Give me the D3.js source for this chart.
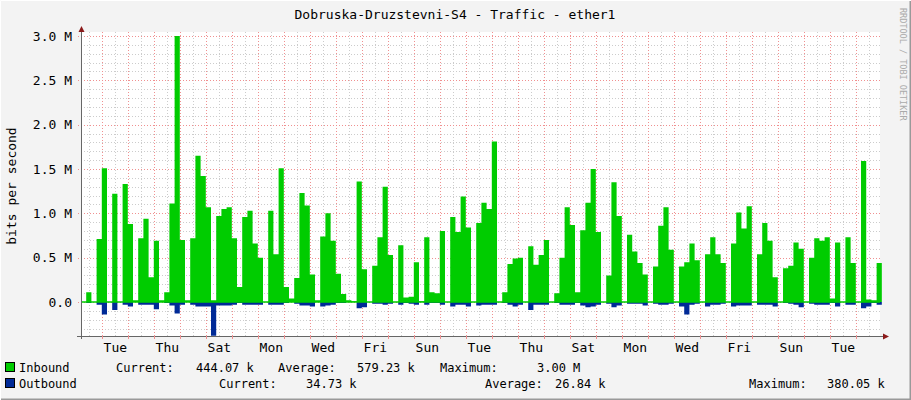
<!DOCTYPE html>
<html>
<head>
<meta charset="utf-8">
<script src="https://cdn.jsdelivr.net/npm/d3@7"></script>
<style>
  body { margin: 0; background: #f3f3f3; }
  svg text { font-family: "DejaVu Sans Mono", monospace; fill: #000; }
</style>
</head>
<body>
<svg id="chart" width="911" height="400"></svg>
<script>
// Samples every ~4.8 h (5 per day), values in Mbit/s
const inbound = [
  0, 0.11, 0, 0.71, 1.51, 0, 1.22, 0, 1.33, 0.88,
  0.02, 0.72, 0.94, 0.28, 0.69, 0.02, 0.11, 1.11, 3.0, 0.70,
  0.02, 0.72, 1.65, 1.42, 1.07, 0.02, 0.97, 1.05, 1.07, 0.72,
  0.17, 0.96, 1.03, 0.66, 0.50, 0, 1.03, 0.54, 1.51, 0.17,
  0.04, 0.27, 1.23, 1.09, 0.31, 0.02, 0.74, 1.00, 0.69, 0.32,
  0.09, 0.02, 0.01, 1.36, 0.37, 0, 0.41, 0.73, 1.30, 0.53,
  0, 0.64, 0.05, 0.06, 0.45, 0.01, 0.73, 0.11, 0.10, 0.80,
  0, 0.96, 0.79, 1.19, 0.84, 0, 0.89, 1.12, 1.05, 1.81,
  0, 0.11, 0.43, 0.49, 0.50, 0, 0.63, 0.42, 0.53, 0.70,
  0, 0.10, 0.50, 1.07, 0.87, 0.11, 0.81, 1.12, 1.50, 0.79,
  0, 0.30, 1.35, 0.97, 0, 0.76, 0.57, 0.44, 0.31, 0,
  0.40, 0.86, 1.07, 0.59, 0, 0.40, 0.45, 0.66, 0.47, 0,
  0.54, 0.73, 0.54, 0.44, 0, 0.66, 1.01, 0.83, 1.08, 0,
  0.54, 0.89, 0.69, 0.28, 0, 0.38, 0.41, 0.67, 0.60, 0,
  0.50, 0.72, 0.69, 0.73, 0.04, 0.67, 0, 0.73, 0.44, 0,
  1.59, 0.03, 0.02, 0.44
];
const outbound = [
  0, 0.01, 0, 0.03, 0.14, 0, 0.09, 0, 0.03, 0.05,
  0, 0.03, 0.03, 0.03, 0.08, 0, 0.01, 0.04, 0.13, 0.03,
  0, 0.03, 0.05, 0.05, 0.05, 0.38, 0.04, 0.04, 0.04, 0.03,
  0.01, 0.03, 0.03, 0.03, 0.03, 0, 0.03, 0.03, 0.03, 0.01,
  0, 0.02, 0.04, 0.04, 0.05, 0, 0.05, 0.04, 0.03, 0.01,
  0.01, 0, 0, 0.07, 0.06, 0, 0.02, 0.02, 0.03, 0.02,
  0, 0.03, 0.01, 0.02, 0.03, 0, 0.03, 0.01, 0.01, 0.03,
  0, 0.05, 0.03, 0.03, 0.05, 0, 0.04, 0.03, 0.03, 0.03,
  0, 0.01, 0.03, 0.05, 0.03, 0, 0.09, 0.03, 0.03, 0.03,
  0, 0.01, 0.03, 0.03, 0.03, 0.01, 0.04, 0.06, 0.05, 0.03,
  0, 0.02, 0.06, 0.04, 0, 0.02, 0.02, 0.02, 0.04, 0,
  0.02, 0.03, 0.03, 0.02, 0, 0.05, 0.14, 0.03, 0.02, 0,
  0.05, 0.03, 0.03, 0.02, 0, 0.05, 0.04, 0.04, 0.04, 0,
  0.03, 0.03, 0.03, 0.05, 0, 0.01, 0.02, 0.03, 0.06, 0,
  0.02, 0.03, 0.03, 0.03, 0.01, 0.05, 0, 0.03, 0.03, 0,
  0.07, 0.05, 0.01, 0.03
];
const dayLabels = ['Tue', 'Thu', 'Sat', 'Mon', 'Wed', 'Fri', 'Sun', 'Tue', 'Thu', 'Sat', 'Mon', 'Wed', 'Fri', 'Sun', 'Tue'];
const yTicks = [0, 0.5, 1.0, 1.5, 2.0, 2.5, 3.0];
const yTickLabels = ['0.0', '0.5 M', '1.0 M', '1.5 M', '2.0 M', '2.5 M', '3.0 M'];
const legendRows = [
  { name: 'Inbound', color: '#00cc00', parts: [['Current:', 116], ['444.07 k', 196], ['Average:', 278], ['579.23 k', 357], ['Maximum:', 440], ['3.00 M', 537]] },
  { name: 'Outbound', color: '#002a97', parts: [['Current:', 219], ['34.73 k', 306], ['Average:', 485], ['26.84 k', 555], ['Maximum:', 749], ['380.05 k', 827]] }
];

const svg = d3.select('#chart');
const W = 911, H = 400;
const pL = 81, pR = 880, pT = 36, pB = 336;

// frame
svg.append('rect').attr('width', W).attr('height', H).attr('fill', '#f3f3f3');
svg.append('path').attr('d', `M0,${H - 0.5}H${W - 0.5}V0`).attr('stroke', '#999').attr('fill', 'none').attr('stroke-width', 2);
svg.append('path').attr('d', `M0.5,${H}V0.5H${W}`).attr('stroke', '#fff').attr('fill', 'none').attr('stroke-width', 1);

const x = d3.scaleLinear().domain([0, 153.65]).range([pL, pR]);
const y = d3.scaleLinear().domain([-0.383, 3.0]).range([pB, pT]);

svg.append('rect').attr('x', pL).attr('y', pT - 4).attr('width', pR - pL).attr('height', pB - pT + 4).attr('fill', '#fff');

// grid: minor every 12 h, major at midnight (first midnight at slot 4.1)
const minorX = d3.range(1.6, 154, 2.5);
const majorX = d3.range(4.1, 154, 5);
svg.append('g').selectAll('line').data(minorX).join('line')
  .attr('x1', d => Math.round(x(d)) + 0.5).attr('x2', d => Math.round(x(d)) + 0.5)
  .attr('y1', pT - 4).attr('y2', pB)
  .attr('stroke', '#ccc').attr('stroke-dasharray', '1,2');
svg.append('g').selectAll('line').data(d3.range(-0.3, 3.01, 0.1)).join('line')
  .attr('x1', pL).attr('x2', pR)
  .attr('y1', d => Math.round(y(d)) + 0.5).attr('y2', d => Math.round(y(d)) + 0.5)
  .attr('stroke', '#ccc').attr('stroke-dasharray', '1,2');
svg.append('g').selectAll('line').data(majorX).join('line')
  .attr('x1', d => Math.round(x(d)) + 0.5).attr('x2', d => Math.round(x(d)) + 0.5)
  .attr('y1', pT - 4).attr('y2', pB)
  .attr('stroke', '#f09090').attr('stroke-dasharray', '1,2');
svg.append('g').selectAll('line').data(yTicks).join('line')
  .attr('x1', pL - 3).attr('x2', pR)
  .attr('y1', d => Math.round(y(d)) + 0.5).attr('y2', d => Math.round(y(d)) + 0.5)
  .attr('stroke', '#f09090').attr('stroke-dasharray', '1,2');

// areas
const inData = inbound.concat([inbound[inbound.length - 1]]);
const outData = outbound.concat([outbound[outbound.length - 1]]);
const areaIn = d3.area().curve(d3.curveStepAfter).x((d, i) => x(i)).y0(y(0)).y1(d => y(d));
const areaOut = d3.area().curve(d3.curveStepAfter).x((d, i) => x(i)).y0(y(0)).y1(d => y(-d));
svg.append('path').datum(inData).attr('d', areaIn).attr('fill', '#00cc00');
svg.append('path').datum(outData).attr('d', areaOut).attr('fill', '#002a97');
svg.append('line').attr('x1', pL).attr('x2', pR).attr('y1', y(0)).attr('y2', y(0))
  .attr('stroke', '#00cc00').attr('stroke-width', 1.5);

// axes
svg.append('line').attr('x1', pL + 0.5).attr('x2', pL + 0.5).attr('y1', pB + 3).attr('y2', pT - 6).attr('stroke', '#666');
svg.append('line').attr('x1', pL - 4).attr('x2', pR + 4).attr('y1', pB + 0.5).attr('y2', pB + 0.5).attr('stroke', '#666');
svg.append('path').attr('d', `M${pL - 2.5},${pT - 4}L${pL + 0.5},${pT - 10}L${pL + 3.5},${pT - 4}Z`).attr('fill', '#8b1a1a');
svg.append('path').attr('d', `M${pR + 3},${pB - 2.5}L${pR + 9},${pB + 0.5}L${pR + 3},${pB + 3.5}Z`).attr('fill', '#8b1a1a');
svg.append('g').selectAll('line').data(majorX).join('line')
  .attr('x1', d => Math.round(x(d)) + 0.5).attr('x2', d => Math.round(x(d)) + 0.5)
  .attr('y1', pB).attr('y2', pB + 3).attr('stroke', '#f09090');

// labels
svg.append('g').selectAll('text').data(yTicks).join('text')
  .attr('x', 72).attr('y', d => y(d) + 4.5).attr('text-anchor', 'end').attr('font-size', 13)
  .text((d, i) => yTickLabels[i]);
svg.append('g').selectAll('text').data(dayLabels).join('text')
  .attr('x', (d, i) => x(6.6 + 10 * i)).attr('y', 352).attr('text-anchor', 'middle').attr('font-size', 13)
  .text(d => d);
svg.append('text').attr('x', 455).attr('y', 19).attr('text-anchor', 'middle').attr('font-size', 13)
  .text('Dobruska-Druzstevni-S4 - Traffic - ether1');
svg.append('text').attr('transform', 'translate(16,186) rotate(-90)').attr('text-anchor', 'middle').attr('font-size', 13)
  .text('bits per second');
svg.append('text').attr('transform', 'translate(900,8) rotate(90)').attr('font-size', 8.5).style('fill', '#aaa')
  .text('RRDTOOL / TOBI OETIKER');

// legend
legendRows.forEach((r, i) => {
  const ly = 372 + i * 16;
  const g = svg.append('g');
  g.append('rect').attr('x', 5.5).attr('y', ly - 9.5).attr('width', 9).attr('height', 9)
    .attr('fill', r.color).attr('stroke', '#000');
  g.append('text').attr('x', 19).attr('y', ly).attr('font-size', 12).text(r.name);
  g.selectAll('text.v').data(r.parts).join('text').attr('class', 'v')
    .attr('x', d => d[1]).attr('y', ly).attr('font-size', 12).text(d => d[0]);
});
</script>
</body>
</html>
